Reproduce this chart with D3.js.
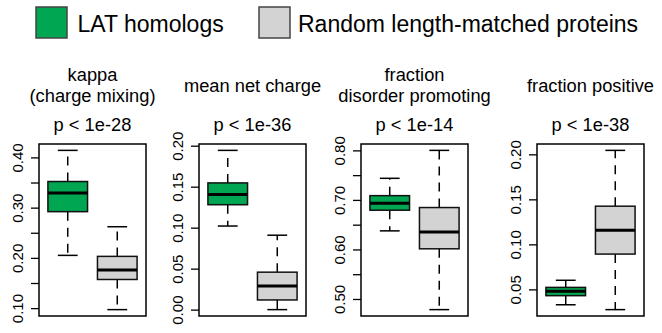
<!DOCTYPE html>
<html>
<head>
<meta charset="utf-8">
<script src="https://cdn.jsdelivr.net/npm/d3@7"></script>
<style>
  body { margin: 0; background: #fff; }
  svg { display: block; }
</style>
</head>
<body>
<div id="chart"></div>
<script>
// groups and legend
const groups = ['LAT homologs', 'Random length-matched proteins'];
const groupColors = ['#00A651', '#D3D3D3'];

// box stats per panel: [lower whisker, Q1, median, Q3, upper whisker]
const kappaLAT = [0.205, 0.292, 0.329, 0.352, 0.414];
const kappaRandom = [0.097, 0.157, 0.176, 0.203, 0.262];
const chargeLAT = [0.102, 0.128, 0.1405, 0.1546, 0.1943];
const chargeRandom = [0.0, 0.0118, 0.0288, 0.0457, 0.0908];
const disorderLAT = [0.6375, 0.6792, 0.693, 0.7086, 0.7436];
const disorderRandom = [0.4785, 0.6013, 0.635, 0.6846, 0.800];
const positiveLAT = [0.0329, 0.043, 0.0478, 0.0522, 0.0601];
const positiveRandom = [0.0275, 0.0892, 0.1158, 0.1424, 0.2044];

// titles and p values
const panelTitles = [['kappa', '(charge mixing)'], ['mean net charge'], ['fraction', 'disorder promoting'], ['fraction positive']];
const pLabels = ['p < 1e-28', 'p < 1e-36', 'p < 1e-14', 'p < 1e-38'];

// y ticks and their labels ('' = tick only)
const kappaTicks = [0.10, 0.15, 0.20, 0.25, 0.30, 0.35, 0.40];
const kappaTickLabels = ['0.10', '', '0.20', '', '0.30', '', '0.40'];
const chargeTicks = [0.00, 0.05, 0.10, 0.15, 0.20];
const chargeTickLabels = ['0.00', '0.05', '0.10', '0.15', '0.20'];
const disorderTicks = [0.50, 0.55, 0.60, 0.65, 0.70, 0.75, 0.80];
const disorderTickLabels = ['0.50', '', '0.60', '', '0.70', '', '0.80'];
const positiveTicks = [0.05, 0.10, 0.15, 0.20];
const positiveTickLabels = ['0.05', '0.10', '0.15', '0.20'];

const panels = [
    { stats: [kappaLAT, kappaRandom], ticks: kappaTicks, tickLabels: kappaTickLabels },
    { stats: [chargeLAT, chargeRandom], ticks: chargeTicks, tickLabels: chargeTickLabels },
    { stats: [disorderLAT, disorderRandom], ticks: disorderTicks, tickLabels: disorderTickLabels },
    { stats: [positiveLAT, positiveRandom], ticks: positiveTicks, tickLabels: positiveTickLabels },
];

const width = 662;
const height = 333;
const fontFamily = "'Liberation Sans', Arial, sans-serif";
const panelLefts = [39, 199, 361, 537];
const frameWidth = 107;
const frameTop = 144;
const frameBottom = 316;

const svg = d3.select('#chart')
    .append('svg')
    .attr('width', width)
    .attr('height', height);

// legend
const legendSquares = [36, 259];
const legendText = [77.5, 298];
groups.forEach((g, i) => {
    svg.append('rect')
        .attr('x', legendSquares[i])
        .attr('y', 7)
        .attr('width', 31)
        .attr('height', 31)
        .attr('fill', groupColors[i])
        .attr('stroke', '#444')
        .attr('stroke-width', 1.5);
    svg.append('text')
        .attr('x', legendText[i])
        .attr('y', 31.5)
        .style('font-family', fontFamily)
        .style('font-size', '23px')
        .attr('fill', '#000')
        .text(g);
});

panels.forEach((panel, pi) => {
    const left = panelLefts[pi];
    const g = svg.append('g').attr('transform', `translate(${left},0)`);

    const lo = d3.min(panel.stats, s => s[0]);
    const hi = d3.max(panel.stats, s => s[4]);
    const pad = (hi - lo) * 0.04;

    const y = d3.scaleLinear()
        .domain([lo - pad, hi + pad])
        .range([frameBottom, frameTop]);

    const x = d3.scalePoint()
        .domain(groups)
        .range([0, frameWidth])
        .padding(0.58);

    const boxWidth = x.step() * 0.8;
    const capWidth = boxWidth / 2;

    // titles
    const cx = frameWidth / 2;
    const titleLines = panelTitles[pi];
    const baselines = titleLines.length === 2 ? [80.5, 102] : [91.5];
    titleLines.forEach((line, li) => {
        g.append('text')
            .attr('x', cx)
            .attr('y', baselines[li])
            .attr('text-anchor', 'middle')
            .style('font-family', fontFamily)
            .style('font-size', '18.3px')
            .text(line);
    });
    g.append('text')
        .attr('x', cx)
        .attr('y', 131)
        .attr('text-anchor', 'middle')
        .style('font-family', fontFamily)
        .style('font-size', '18.3px')
        .text(pLabels[pi]);

    // y axis: ticks only, the frame serves as the axis line
    const axis = g.append('g')
        .call(d3.axisLeft(y)
            .tickValues(panel.ticks)
            .tickSize(8)
            .tickFormat((d, i) => panel.tickLabels[i]));
    axis.select('.domain').remove();
    axis.selectAll('.tick line')
        .attr('stroke', '#000')
        .attr('stroke-width', 1.3);
    axis.selectAll('.tick text')
        .attr('transform', 'rotate(-90)')
        .attr('x', 0)
        .attr('y', -16)
        .attr('dy', 0)
        .attr('text-anchor', 'middle')
        .attr('fill', '#000')
        .style('font-family', fontFamily)
        .style('font-size', '15px');

    // boxes
    panel.stats.forEach((s, gi) => {
        const bx = x(groups[gi]);
        const whisker = g.append('g');
        [[s[3], s[4]], [s[1], s[0]]].forEach(([from, to]) => {
            whisker.append('line')
                .attr('x1', bx)
                .attr('x2', bx)
                .attr('y1', y(from))
                .attr('y2', y(to))
                .attr('stroke', '#000')
                .attr('stroke-width', 1.5)
                .attr('stroke-dasharray', '9,7');
        });
        [s[0], s[4]].forEach(v => {
            whisker.append('line')
                .attr('x1', bx - capWidth / 2)
                .attr('x2', bx + capWidth / 2)
                .attr('y1', y(v))
                .attr('y2', y(v))
                .attr('stroke', '#000')
                .attr('stroke-width', 1.5);
        });
        g.append('rect')
            .attr('x', bx - boxWidth / 2)
            .attr('y', y(s[3]))
            .attr('width', boxWidth)
            .attr('height', y(s[1]) - y(s[3]))
            .attr('fill', groupColors[gi])
            .attr('stroke', '#111')
            .attr('stroke-width', 1.5);
        g.append('line')
            .attr('x1', bx - boxWidth / 2)
            .attr('x2', bx + boxWidth / 2)
            .attr('y1', y(s[2]))
            .attr('y2', y(s[2]))
            .attr('stroke', '#000')
            .attr('stroke-width', 3);
    });

    // frame
    g.append('rect')
        .attr('x', 0)
        .attr('y', frameTop)
        .attr('width', frameWidth)
        .attr('height', frameBottom - frameTop)
        .attr('fill', 'none')
        .attr('stroke', '#000')
        .attr('stroke-width', 1.5);
});
</script>
</body>
</html>
